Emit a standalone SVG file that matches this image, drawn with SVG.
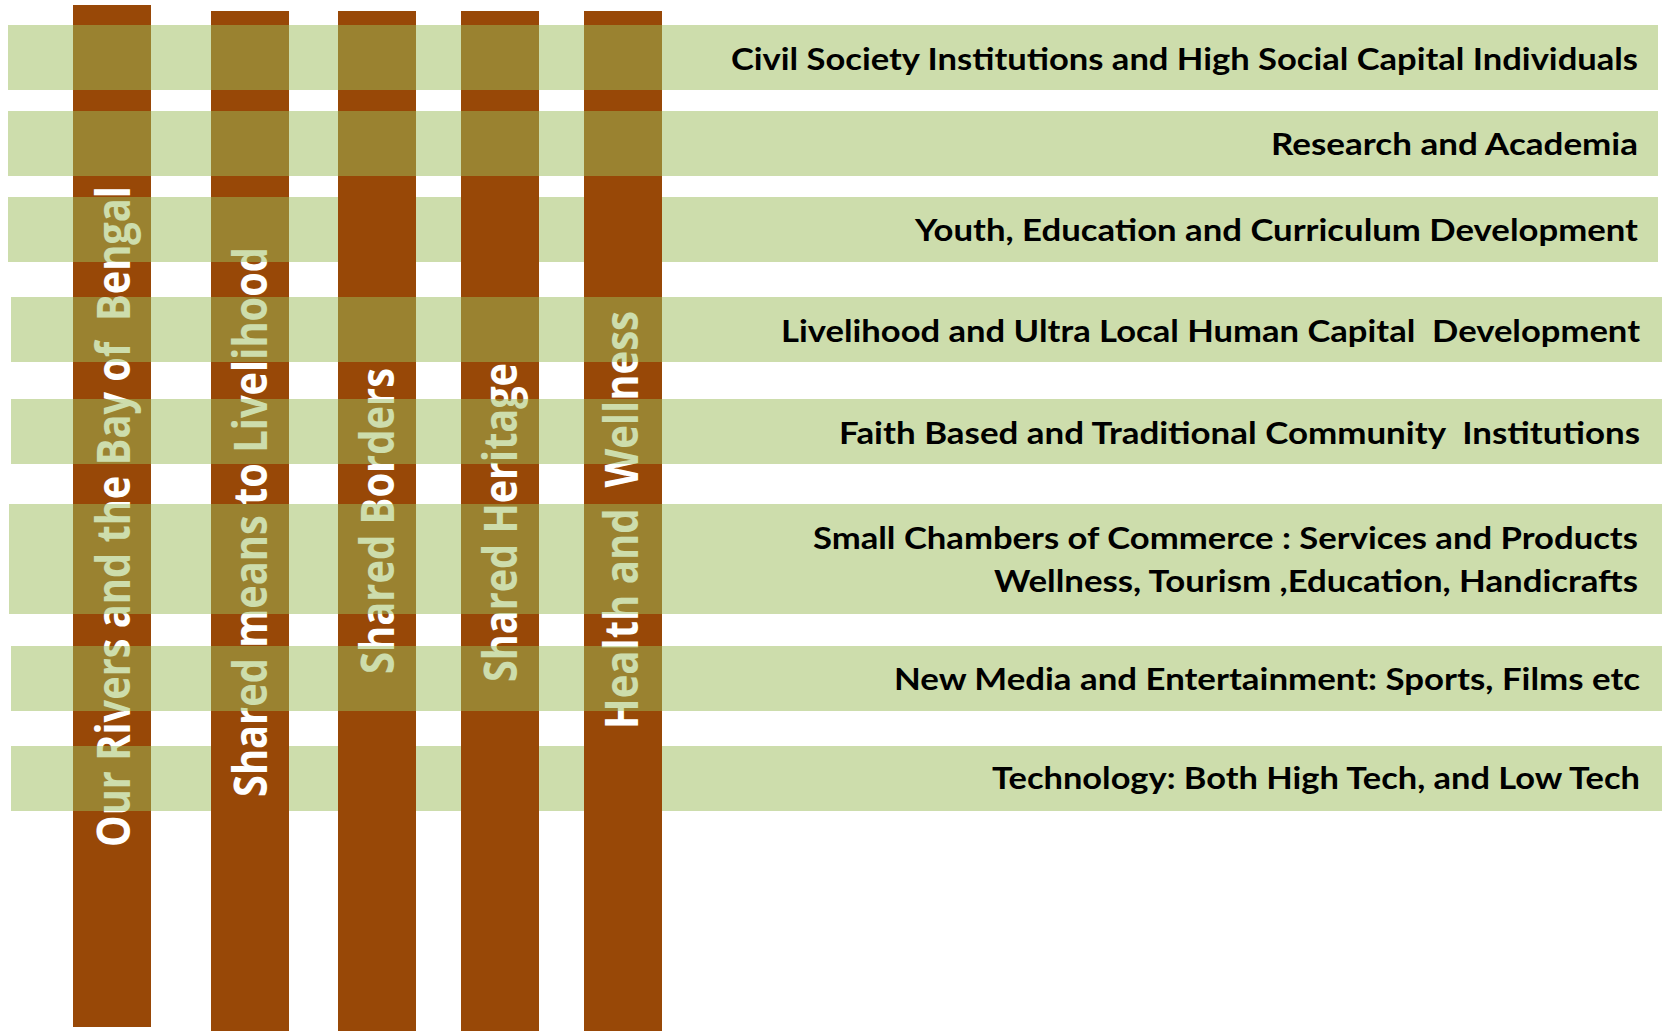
<svg xmlns="http://www.w3.org/2000/svg" width="1662" height="1031" viewBox="0 0 1662 1031">
<style>
.col{fill:#984807}
.band{fill:#9BBB59;fill-opacity:0.5}
.vt{fill:#FFFFFF;font-family:"Open Sans","Noto Sans","DejaVu Sans",sans-serif;font-weight:700;font-size:47px;text-anchor:middle;white-space:pre}
.bt{fill:#000000;font-family:Lato,"Liberation Sans",sans-serif;font-weight:700;font-size:31px;text-anchor:end;white-space:pre}
</style>
<rect x="0" y="0" width="1662" height="1031" fill="#FFFFFF"/>
<g id="col-1">
<rect class="col" x="73" y="5" width="78" height="1022"/>
<text class="vt" transform="translate(129.5,516.5) rotate(-90)" x="0" y="0" textLength="661" lengthAdjust="spacingAndGlyphs" xml:space="preserve">Our Rivers and the Bay of  Bengal</text>
</g>
<g id="band-8">
<rect class="band" x="11" y="746" width="1651" height="65"/>
<text class="bt" x="1640" y="789" textLength="648" lengthAdjust="spacingAndGlyphs">Technology: Both High Tech, and Low Tech</text>
</g>
<g id="col-2">
<rect class="col" x="211" y="11" width="78" height="1020"/>
<text class="vt" transform="translate(267,522) rotate(-90)" x="0" y="0" textLength="550" lengthAdjust="spacingAndGlyphs">Shared means to Livelihood</text>
</g>
<g id="band-3">
<rect class="band" x="8" y="197" width="1650" height="65"/>
<text class="bt" x="1638" y="240.5" textLength="723" lengthAdjust="spacingAndGlyphs">Youth, Education and Curriculum Development</text>
</g>
<g id="col-3">
<rect class="col" x="338" y="11" width="78" height="1020"/>
<text class="vt" transform="translate(394,521) rotate(-90)" x="0" y="0" textLength="306" lengthAdjust="spacingAndGlyphs">Shared Borders</text>
</g>
<g id="col-4">
<rect class="col" x="461" y="11" width="78" height="1020"/>
<text class="vt" transform="translate(517,522.5) rotate(-90)" x="0" y="0" textLength="319" lengthAdjust="spacingAndGlyphs">Shared Heritage</text>
</g>
<g id="col-5">
<rect class="col" x="584" y="11" width="78" height="1020"/>
<text class="vt" transform="translate(638,520) rotate(-90)" x="0" y="0" textLength="418" lengthAdjust="spacingAndGlyphs" xml:space="preserve">Health and  Wellness</text>
</g>
<g id="band-1">
<rect class="band" x="8" y="25" width="1650" height="65"/>
<text class="bt" x="1638" y="70" textLength="907" lengthAdjust="spacingAndGlyphs">Civil Society Institutions and High Social Capital Individuals</text>
</g>
<g id="band-2">
<rect class="band" x="8" y="111" width="1650" height="65"/>
<text class="bt" x="1638" y="155" textLength="367" lengthAdjust="spacingAndGlyphs">Research and Academia</text>
</g>
<g id="band-4">
<rect class="band" x="11" y="297" width="1651" height="65"/>
<text class="bt" x="1640" y="341.5" textLength="859" lengthAdjust="spacingAndGlyphs" xml:space="preserve">Livelihood and Ultra Local Human Capital  Development</text>
</g>
<g id="band-5">
<rect class="band" x="11" y="399" width="1651" height="65"/>
<text class="bt" x="1640" y="443.5" textLength="801" lengthAdjust="spacingAndGlyphs" xml:space="preserve">Faith Based and Traditional Community  Institutions</text>
</g>
<g id="band-6">
<rect class="band" x="9" y="504" width="1653" height="110"/>
<text class="bt" x="1638" y="548.5" textLength="825" lengthAdjust="spacingAndGlyphs">Small Chambers of Commerce : Services and Products</text>
<text class="bt" x="1638" y="591.5" textLength="644" lengthAdjust="spacingAndGlyphs">Wellness, Tourism ,Education, Handicrafts</text>
</g>
<g id="band-7">
<rect class="band" x="11" y="646" width="1651" height="65"/>
<text class="bt" x="1640" y="690" textLength="746" lengthAdjust="spacingAndGlyphs">New Media and Entertainment: Sports, Films etc</text>
</g>
</svg>
